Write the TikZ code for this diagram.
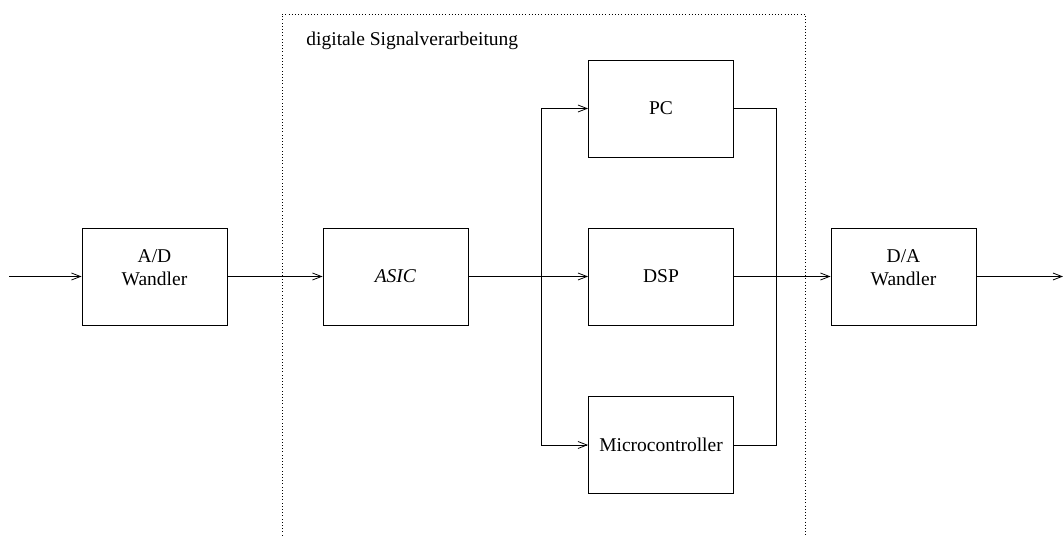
\documentclass[tikz,border=0pt]{standalone}
\usepackage{fontspec}
\setmainfont{Liberation Serif}
\usetikzlibrary{arrows.meta}
\begin{document}
\begin{tikzpicture}[x=1pt,y=-1pt,
  line width=0.9pt,
  blk/.style={draw, rectangle, minimum width=145pt, minimum height=97pt, inner sep=0pt, font=\fontsize{19.5}{23}\selectfont},
  txt/.style={font=\fontsize{19.5}{23}\selectfont, align=center, inner sep=0pt},
  arr/.style={-{Straight Barb[length=9pt,width=7pt,line width=0.8pt]}},
  grp/.style={draw, line width=0.8pt, dash pattern=on 0.8pt off 2.4pt}]
\useasboundingbox (0,0) rectangle (1063,537);

% processing group (dotted frame, open at the bottom)
\draw[grp] (282,545) -- (282,14) -- (805,14) -- (805,545);
\node[txt, anchor=west] (grplabel) at (306,41) {digitale Signalverarbeitung};

% blocks
\node[blk] (adc) at (154.5,276.5) {};
\node[txt] (adctxt) at (154.5,268) {A/D\\Wandler};
\node[blk] (asic) at (395.5,276.5) {\textit{ASIC}};
\node[blk] (pc) at (661,108.5) {PC};
\node[blk] (dsp) at (661,276.5) {DSP};
\node[blk] (mc) at (661,445) {Microcontroller};
\node[blk] (dac) at (903.5,276.5) {};
\node[txt] (dactxt) at (903.5,268) {D/A\\Wandler};

% free ends and bus junctions
\coordinate (in) at (9,276.5);
\coordinate (out) at (1063,276.5);
\coordinate (busL) at (541,276.5);
\coordinate (busR) at (776,276.5);

% signal path
\draw[arr] (in) -- (adc.west);
\draw[arr] (adc.east) -- (asic.west);
\draw[arr] (asic.east) -- (dsp.west);
\draw[arr] (busL) |- (pc.west);
\draw[arr] (busL) |- (mc.west);
\draw (pc.east) -| (busR);
\draw (mc.east) -| (busR);
\draw[arr] (dsp.east) -- (dac.west);
\draw[arr] (dac.east) -- (out);
\end{tikzpicture}
\end{document}
